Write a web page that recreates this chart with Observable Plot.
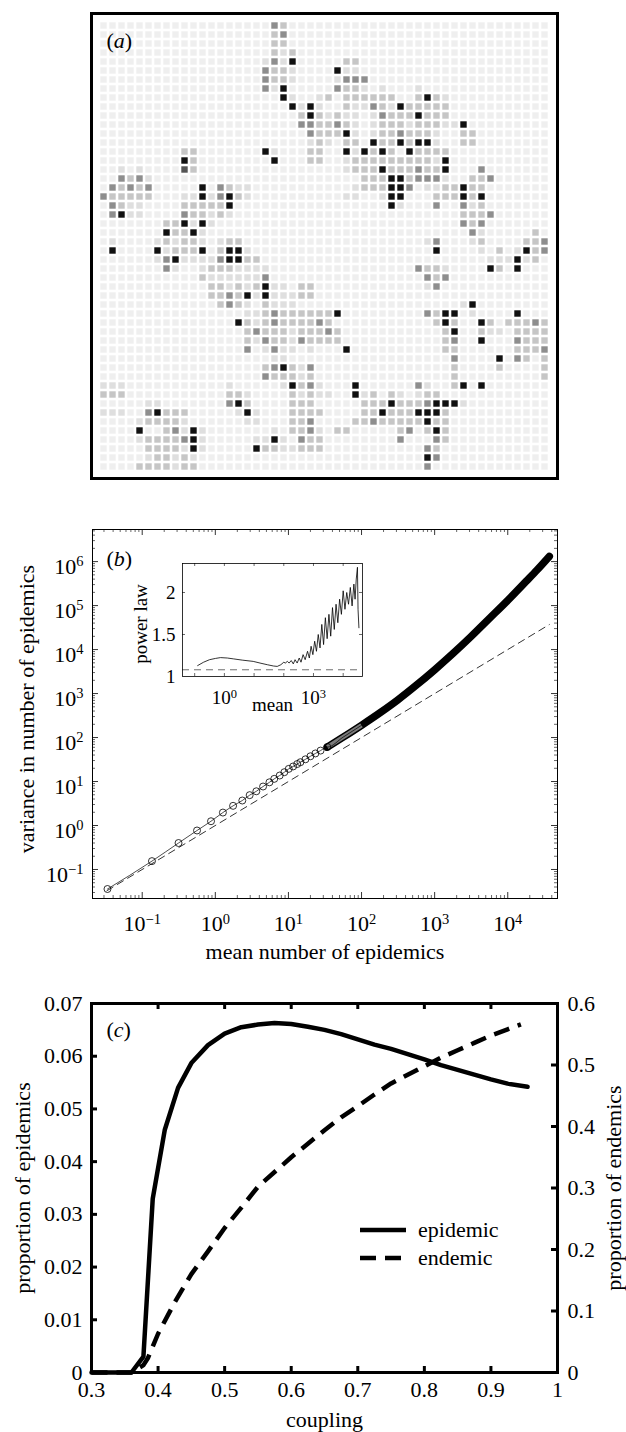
<!DOCTYPE html>
<html>
<head>
<meta charset="utf-8">
<script src="https://cdn.jsdelivr.net/npm/d3@7"></script>
<script src="https://cdn.jsdelivr.net/npm/@observablehq/plot@0.6"></script>
<style>
  html, body { margin: 0; padding: 0; background: #fff; }
  #fig { position: relative; width: 626px; height: 1432px; overflow: hidden; background: #fff; }
  #fig > svg { position: absolute; }
</style>
</head>
<body>
<div id="fig"></div>
<script>
// ---------------- DATA ----------------
// (a) lattice: 50 rows x 50 columns, shade level 0 (background) .. 5 (black)
const latticeRows = [
  "0000000000 0000000003 2000000000 0000000000 0000000000",
  "0000000000 0000000002 3000000000 0000000000 0000000000",
  "0000000000 0000000002 2000000000 0000000000 0000000000",
  "0000000000 0000000002 1200000000 0000000000 0000000000",
  "0000000000 0000000013 1500000220 0000000000 0000000000",
  "0000000000 0000000032 2100005110 0000000000 0000000000",
  "0000000000 0000000032 2100001333 0000000000 0000000000",
  "0000000000 0000000031 5000003221 0100010000 0000000000",
  "0000000000 0000000000 5100120222 2220025210 0000000000",
  "0000000000 0000000000 0515100211 3215222220 0000000000",
  "0000000000 0000000000 0025212110 1322252220 0000000000",
  "0000000000 0000000000 0033223210 1222122211 5000000000",
  "0000000000 0000000000 0003222510 1223222100 2200000000",
  "0000000000 0000000000 0001210220 5225255100 2200000000",
  "0000000002 2000000051 0002200515 2520522220 0000000000",
  "0000000005 2000000005 0002200122 2222222150 0000000000",
  "0010100004 2000000000 0000000122 2522232250 0030000000",
  "0032310000 0000000000 0000000002 2255233310 0223000000",
  "0323230000 0503211000 0000000012 2255301122 5220000000",
  "3222220001 1513521000 0000000110 0155000222 5250000000",
  "0321100002 2222500000 0000000000 0051000300 3120000000",
  "0351100003 2212100000 0000000000 0000000000 2223000000",
  "0000000225 1510000000 0000000000 0000000000 3230000000",
  "0000000522 5100000000 0000000000 0000000000 0310000020",
  "0100001212 2101220000 0000000000 0000001300 0120000223",
  "0500005122 2502551000 0000000000 0000000500 0010201523",
  "0000001351 1113552200 0000000000 0000000000 0001115120",
  "0000000310 0122211110 0000000000 0000032210 0005205000",
  "0000000000 0211111130 0000000000 0000003230 0000000000",
  "0000000000 0022121251 1022000000 0000001300 0000000000",
  "0000000000 0022325151 1122000000 0000000000 0000000000",
  "0000000000 0002321021 1100000000 0000000000 1500000000",
  "0000000000 0000001123 2222225000 0000003255 0100005000",
  "0000000000 0000052123 2222320000 0000000252 0052022232",
  "0000000000 0000002322 2122232000 0000000025 0021102222",
  "0000000000 0000002132 2132222000 0000000023 0050003222",
  "0000000000 0000003013 1101000500 0000000022 0000002223",
  "0000000000 0000000001 1000000000 0000000003 0000503202",
  "0000000000 0000000023 5213000000 0000000002 0000200002",
  "0000000000 0000000032 2212000000 0000000002 0000000002",
  "1110000000 0000100000 1523100050 0000031002 5050000000",
  "2220000000 0000221000 0212110051 2021012200 0000000000",
  "0000011000 0000352000 0222000002 2252223555 1000000000",
  "1110035222 0000015100 0222200002 2522255520 0000000000",
  "0000122221 0000001100 0223000022 3222225220 0000000000",
  "0000500231 5100000001 0223102200 0002302520 0000000000",
  "0000122223 5100000115 1032200000 0003000320 0000000000",
  "0000022221 5100000522 1122200000 0000003200 0000000000",
  "0000012212 1000000000 0000000000 0000005300 0000000000",
  "0000222212 2000000000 0000000000 0000003000 0000000000"
];
const levelColors = ["#efefef", "#dfdfdf", "#c6c6c6", "#8e8e8e", "#555555", "#111111"];

// (b) main: variance vs mean (open circles, then the dense band)
const circleMean = [0.0335, 0.136, 0.314, 0.562, 0.873, 1.27, 1.75, 2.34, 2.95, 3.64, 4.5, 5.5, 6.4, 7.6, 8.8, 10.1, 11.6, 13.2, 14.6, 17.1, 20, 23.4, 27.5, 34];
const circleVar  = [0.036, 0.155, 0.40, 0.77, 1.25, 1.97, 2.8, 3.7, 4.9, 6.0, 7.7, 9.6, 11.5, 13.7, 16.3, 19.4, 22, 25, 27.5, 32, 37.5, 43.5, 50.5, 61];
const bandMean = [34, 56, 100, 178, 316, 562, 1000, 1778, 3162, 5623, 10000, 17783, 25119, 37000];
const bandVar  = [60.5, 102, 190, 363, 724, 1548, 3467, 8128, 19953, 51286, 131826, 354800, 645600, 1313500];
const poissonMean = [0.033, 37000];
const poissonVar  = [0.033, 37000];
const bXTicks = [0.1, 1, 10, 100, 1000, 10000];
const bYTicks = [0.1, 1, 10, 100, 1000, 10000, 100000, 1000000];

// (b) inset: power-law exponent vs mean
const insetLogMean = [-0.90,-0.70,-0.50,-0.30,-0.13,0.10,0.30,0.60,0.97,1.20,1.45,1.65,1.78,1.90,2.00,2.05,2.12,2.18,2.25,2.32,2.38,2.45,2.52,2.58,2.65,2.72,2.80,2.86,2.92,2.98,3.04,3.10,3.16,3.22,3.28,3.34,3.40,3.46,3.52,3.58,3.64,3.70,3.76,3.82,3.88,3.94,4.00,4.06,4.12,4.18,4.24,4.30,4.36,4.40,4.44,4.48,4.50,4.53];
const insetPower   = [1.13,1.17,1.20,1.215,1.225,1.22,1.21,1.195,1.18,1.16,1.14,1.125,1.12,1.14,1.17,1.16,1.18,1.16,1.19,1.15,1.20,1.16,1.22,1.17,1.26,1.20,1.30,1.22,1.36,1.26,1.42,1.30,1.50,1.34,1.62,1.38,1.70,1.45,1.74,1.48,1.82,1.56,1.86,1.64,1.92,1.74,2.02,1.80,2.00,1.86,2.06,1.84,2.10,1.92,2.16,2.30,1.80,1.58];
const insetReference = 1.08;
const insetXTicks = [1, 1000];
const insetYTicks = [1, 1.5, 2];

// (c) proportions vs coupling
const couplingEpi  = [0.30, 0.36, 0.378, 0.392, 0.41, 0.43, 0.45, 0.475, 0.50, 0.525, 0.55, 0.575, 0.60, 0.625, 0.65, 0.675, 0.70, 0.725, 0.75, 0.775, 0.80, 0.825, 0.85, 0.875, 0.90, 0.925, 0.955];
const epidemicProp = [0, 0, 0.003, 0.033, 0.046, 0.054, 0.0587, 0.0621, 0.0643, 0.0655, 0.066, 0.0663, 0.0661, 0.0656, 0.065, 0.0642, 0.0632, 0.0622, 0.0614, 0.0604, 0.0594, 0.0583, 0.0574, 0.0565, 0.0556, 0.0548, 0.0542];
const couplingEnd  = [0.30, 0.36, 0.378, 0.385, 0.40, 0.425, 0.45, 0.475, 0.50, 0.525, 0.55, 0.575, 0.60, 0.625, 0.65, 0.675, 0.70, 0.725, 0.75, 0.775, 0.80, 0.825, 0.85, 0.875, 0.90, 0.925, 0.945];
const endemicProp  = [0, 0, 0.012, 0.024, 0.063, 0.114, 0.16, 0.197, 0.235, 0.268, 0.302, 0.326, 0.35, 0.372, 0.394, 0.415, 0.433, 0.452, 0.47, 0.484, 0.498, 0.512, 0.524, 0.536, 0.548, 0.558, 0.566];
const cXTicks = [0.3, 0.4, 0.5, 0.6, 0.7, 0.8, 0.9, 1];
const cLeftTicks = [0, 0.01, 0.02, 0.03, 0.04, 0.05, 0.06, 0.07];
const cRightTicks = [0, 0.1, 0.2, 0.3, 0.4, 0.5, 0.6];
const legendItems = [{label: "epidemic", dash: null}, {label: "endemic", dash: "16,9"}];

// ---------------- HELPERS ----------------
const FONT = "'Liberation Serif', 'Times New Roman', Times, serif";
const fig = document.getElementById("fig");
function place(el, left, top) { el.style.left = left + "px"; el.style.top = top + "px"; fig.appendChild(el); }

function rich(svg) {
  d3.select(svg).selectAll("text").each(function () {
    let target = this;
    if (this.children.length === 1 && this.firstElementChild.tagName.toLowerCase() === "tspan") target = this.firstElementChild;
    const t = target.textContent;
    let m = /^10\^(-?\d+)$/.exec(t);
    if (m) {
      target.textContent = "10";
      d3.select(target).append("tspan").attr("dy", "-0.5em").attr("font-size", "0.66em").text(m[1].replace("-", "\u2212"));
      return;
    }
    m = /^\((\w)\)$/.exec(t);
    if (m) {
      target.textContent = "(";
      d3.select(target).append("tspan").attr("font-style", "italic").text(m[1]);
      d3.select(target).append("tspan").text(")");
    }
  });
  return svg;
}

function logMinor(domain) {
  const out = [];
  for (let e = -3; e <= 7; e++) for (let k = 2; k <= 9; k++) {
    const v = k * Math.pow(10, e);
    if (v > domain[0] && v < domain[1]) out.push(v);
  }
  return out;
}

function xTicksMarks(values, fh, len, sw, sides = ["bottom", "top"]) {
  const m = [];
  if (sides.includes("bottom")) m.push(Plot.tickX(values, {x: d => d, insetTop: fh - len, stroke: "black", strokeWidth: sw}));
  if (sides.includes("top")) m.push(Plot.tickX(values, {x: d => d, insetBottom: fh - len, stroke: "black", strokeWidth: sw}));
  return m;
}
function yTicksMarks(values, fw, len, sw, sides = ["left", "right"]) {
  const m = [];
  if (sides.includes("left")) m.push(Plot.tickY(values, {y: d => d, insetRight: fw - len, stroke: "black", strokeWidth: sw}));
  if (sides.includes("right")) m.push(Plot.tickY(values, {y: d => d, insetLeft: fw - len, stroke: "black", strokeWidth: sw}));
  return m;
}
const pow10Label = d => "10^" + Math.round(Math.log10(d));

// ---------------- PANEL (a) ----------------
const nGrid = latticeRows.length;
const cellData = latticeRows.flatMap((row, r) =>
  row.replace(/ /g, "").split("").map((ch, c) => ({row: r, col: c, level: +ch})));

const plotA = Plot.plot({
  width: 626, height: 490,
  marginLeft: 91, marginRight: 69, marginTop: 13, marginBottom: 12,
  style: {fontFamily: FONT, fontSize: "22px", background: "white", color: "black"},
  x: {type: "band", domain: d3.range(nGrid), padding: 0, axis: null},
  y: {type: "band", domain: d3.range(nGrid), padding: 0, axis: null},
  color: {type: "ordinal", domain: d3.range(levelColors.length), range: levelColors},
  marks: [
    Plot.cell(cellData, {x: "col", y: "row", fill: "level", inset: 1.3}),
    Plot.frame({stroke: "black", strokeWidth: 3}),
    Plot.text(["(a)"], {frameAnchor: "top-left", dx: 15, dy: 27, textAnchor: "start", lineAnchor: "middle", fontSize: 22})
  ]
});
place(rich(plotA), 0, 0);

// ---------------- PANEL (b) ----------------
const xDomB = [0.0209, 47900];
const yDomB = [0.0219, 5.37e6];
const fwB = 465, fhB = 369;
const circles = circleMean.map((m, i) => ({mean: m, variance: circleVar[i]}));
const band = bandMean.map((m, i) => ({mean: m, variance: bandVar[i]}));
const poisson = poissonMean.map((m, i) => ({mean: m, variance: poissonVar[i]}));

const plotB = Plot.plot({
  width: 626, height: 480,
  marginLeft: 92, marginRight: 69, marginTop: 39, marginBottom: 72,
  style: {fontFamily: FONT, fontSize: "22px", background: "white", color: "black"},
  x: {type: "log", domain: xDomB},
  y: {type: "log", domain: yDomB},
  marks: [
    Plot.line(poisson, {x: "mean", y: "variance", stroke: "black", strokeWidth: 0.8, strokeDasharray: "7,5"}),
    Plot.line(band, {x: "mean", y: "variance", stroke: "black", strokeWidth: 7.5, strokeLinecap: "round", curve: "monotone-x"}),
    Plot.line(band.filter(d => d.mean <= 100), {x: "mean", y: "variance", stroke: "#7a7a7a", strokeWidth: 4.5, strokeLinecap: "butt"}),
    Plot.line(circles.concat(band), {x: "mean", y: "variance", stroke: "black", strokeWidth: 0.7, curve: "monotone-x"}),
    Plot.dot(circles, {x: "mean", y: "variance", r: 3.5, stroke: "black", strokeWidth: 0.8, fill: "none"}),
    Plot.frame({stroke: "black", strokeWidth: 1}),
    ...xTicksMarks(bXTicks, fhB, 6, 0.8),
    ...xTicksMarks(logMinor(xDomB), fhB, 3, 0.6),
    ...yTicksMarks(bYTicks, fwB, 6, 0.8),
    ...yTicksMarks(logMinor(yDomB), fwB, 3, 0.6),
    Plot.axisX({ticks: bXTicks, tickSize: 0, tickPadding: 17, tickFormat: pow10Label, label: null, fontSize: 22}),
    Plot.axisY({ticks: bYTicks, tickSize: 0, tickPadding: 9, tickFormat: pow10Label, label: null, fontSize: 22, dy: 5}),
    Plot.text(["mean number of epidemics"], {frameAnchor: "bottom", dy: 53, textAnchor: "middle", lineAnchor: "middle", fontSize: 22}),
    Plot.text(["variance in number of epidemics"], {frameAnchor: "left", dx: -66, dy: -5, rotate: -90, textAnchor: "middle", lineAnchor: "middle", fontSize: 22}),
    Plot.text(["(b)"], {frameAnchor: "top-left", dx: 14, dy: 29, textAnchor: "start", lineAnchor: "middle", fontSize: 22})
  ]
});
place(rich(plotB), 0, 490);

// ---------------- INSET of (b) ----------------
const insetDom = [0.0389, 44700];
const fwI = 180, fhI = 113;
const insetData = insetLogMean.map((lm, i) => ({logMean: lm, power: insetPower[i]}));
const plotInset = Plot.plot({
  width: 300, height: 190,
  marginLeft: 82, marginRight: 38, marginTop: 23, marginBottom: 54,
  style: {fontFamily: FONT, fontSize: "19px", background: "transparent", color: "black"},
  x: {type: "log", domain: insetDom},
  y: {domain: [1, 2.345]},
  marks: [
    Plot.frame({fill: "white", stroke: "none"}),
    Plot.ruleY([insetReference], {stroke: "#6e6e6e", strokeWidth: 1, strokeDasharray: "7,5"}),
    Plot.line(insetData, {x: d => Math.pow(10, d.logMean), y: "power", stroke: "black", strokeWidth: 0.8}),
    Plot.frame({stroke: "black", strokeWidth: 0.8}),
    ...xTicksMarks(bXTicks, fhI, 3, 0.6),
    ...yTicksMarks(insetYTicks.slice(1), fwI, 3, 0.6),
    Plot.axisX({ticks: insetXTicks, tickSize: 0, tickPadding: 14, tickFormat: pow10Label, label: null, fontSize: 19}),
    Plot.axisY({ticks: insetYTicks, tickSize: 0, tickPadding: 7, tickFormat: d => String(d), label: null, fontSize: 19}),
    Plot.text(["mean"], {frameAnchor: "bottom", dy: 28, textAnchor: "middle", lineAnchor: "middle", fontSize: 19}),
    Plot.text(["power law"], {frameAnchor: "left", dx: -42, dy: 4, rotate: -90, textAnchor: "middle", lineAnchor: "middle", fontSize: 19})
  ]
});
place(rich(plotInset), 100, 540);

// ---------------- PANEL (c) ----------------
const kEnd = 0.07 / 0.6;
const fwC = 466, fhC = 369;
const epi = couplingEpi.map((c, i) => ({coupling: c, value: epidemicProp[i]}));
const endm = couplingEnd.map((c, i) => ({coupling: c, value: endemicProp[i]}));
const fmtRight = d => { const v = Math.round(d / kEnd * 10) / 10; return v === 0 ? "0" : v.toFixed(1); };

const plotC = Plot.plot({
  width: 626, height: 452,
  marginLeft: 91, marginRight: 69, marginTop: 23, marginBottom: 60,
  style: {fontFamily: FONT, fontSize: "22px", background: "white", color: "black"},
  x: {domain: [0.3, 1]},
  y: {domain: [0, 0.07]},
  marks: [
    Plot.line(epi, {x: "coupling", y: "value", stroke: "black", strokeWidth: 4.5, strokeLinejoin: "miter"}),
    Plot.line(endm, {x: "coupling", y: d => d.value * kEnd, stroke: "black", strokeWidth: 4.5, strokeDasharray: "16,9", strokeLinecap: "butt"}),
    Plot.frame({stroke: "black", strokeWidth: 3}),
    ...xTicksMarks(cXTicks.filter(v => v > 0.31 && v < 0.99), fhC, 6, 3),
    ...yTicksMarks(cLeftTicks.filter(v => v > 0 && v < 0.069), fwC, 6, 3, ["left"]),
    ...yTicksMarks(cRightTicks.filter(v => v > 0 && v < 0.59).map(v => v * kEnd), fwC, 6, 3, ["right"]),
    Plot.axisX({ticks: cXTicks, tickSize: 0, tickPadding: 9, tickFormat: d => d === 1 ? "1" : d.toFixed(1), label: null, fontSize: 22}),
    Plot.axisY({ticks: cLeftTicks, tickSize: 0, tickPadding: 9, tickFormat: d => d === 0 ? "0" : d.toFixed(2), label: null, fontSize: 22}),
    Plot.axisY({anchor: "right", ticks: cRightTicks.map(v => v * kEnd), tickSize: 0, tickPadding: 10, tickFormat: fmtRight, label: null, fontSize: 22}),
    Plot.text(["coupling"], {frameAnchor: "bottom", dy: 47, textAnchor: "middle", lineAnchor: "middle", fontSize: 22}),
    Plot.text(["proportion of epidemics"], {frameAnchor: "left", dx: -69, rotate: -90, textAnchor: "middle", lineAnchor: "middle", fontSize: 22}),
    Plot.text(["proportion of endemics"], {frameAnchor: "right", dx: 56, rotate: -90, textAnchor: "middle", lineAnchor: "middle", fontSize: 22}),
    Plot.text(["(c)"], {frameAnchor: "top-left", dx: 15, dy: 26, textAnchor: "start", lineAnchor: "middle", fontSize: 22})
  ]
});
place(rich(plotC), 0, 980);

// legend of (c)
const leg = d3.create("svg").attr("width", 170).attr("height", 62);
legendItems.forEach((it, i) => {
  const y = 16 + i * 28;
  leg.append("line").attr("x1", 4).attr("x2", 50).attr("y1", y).attr("y2", y)
    .attr("stroke", "black").attr("stroke-width", 4.5).attr("stroke-dasharray", it.dash);
  leg.append("text").attr("x", 62).attr("y", y).attr("dy", "0.32em")
    .attr("font-family", FONT).attr("font-size", 22).attr("fill", "black").text(it.label);
});
place(leg.node(), 356, 1214);
</script>
</body>
</html>
